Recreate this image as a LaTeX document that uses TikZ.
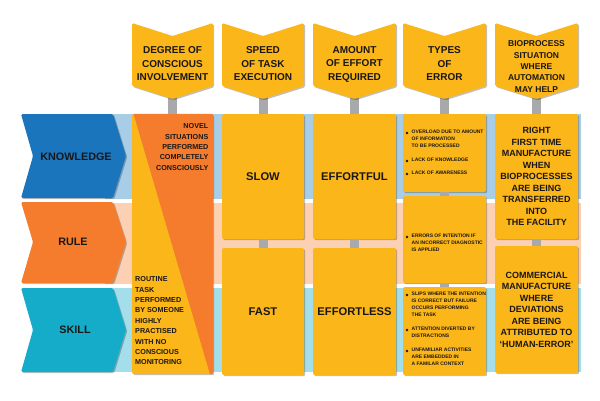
\documentclass[tikz,border=0pt]{standalone}
\usepackage{fontspec}
\setmainfont{Liberation Sans}
\usetikzlibrary{shadows,backgrounds}
\definecolor{yel}{HTML}{FBB61A}
\definecolor{org}{HTML}{F47C2C}
\definecolor{blu}{HTML}{1B75BC}
\definecolor{cya}{HTML}{14ACC8}
\definecolor{bandK}{HTML}{A8CDE7}
\definecolor{bandR}{HTML}{FCD0B2}
\definecolor{bandS}{HTML}{A4DEEA}
\definecolor{stemgray}{HTML}{A7A9AC}
\definecolor{ink}{HTML}{1A1718}
\begin{document}
\begin{tikzpicture}[x=1pt,y=-1pt,
  shad/.style={drop shadow={shadow xshift=1.2pt,shadow yshift=-1.2pt,fill=black,opacity=0.25}},
  box/.style={fill=yel,rounded corners=2pt,shad,inner sep=0pt,text=ink,align=center,font=\bfseries},
  stem/.style={draw=stemgray,line width=9pt},
  hdrshape/.style={fill=yel,rounded corners=1.5pt,shad},
  hdrtext/.style={text=ink,align=center,font=\fontsize{10}{13.5}\selectfont\bfseries,inner sep=0pt},
  rowtext/.style={text=ink,font=\fontsize{10.8}{13}\selectfont\bfseries,inner sep=0pt},
  big/.style={font=\fontsize{11.2}{14}\selectfont\bfseries},
  mid/.style={font=\fontsize{9}{11.5}\selectfont\bfseries},
  small/.style={text=ink,font=\fontsize{7.2}{10.4}\selectfont\bfseries,inner sep=0pt},
  err/.style={text=ink,font=\fontsize{5}{6.9}\selectfont\bfseries,inner sep=0pt,align=left,anchor=north west},
]
\useasboundingbox (0,0) rectangle (600,400);

% row bands
\fill[bandK] (105,114) rectangle (581,199);
\fill[bandR] (105,202.5) rectangle (581,284);
\fill[bandS] (105,287.5) rectangle (581,372);

% row chevrons
\path[fill=blu,rounded corners=1.5pt,shad] (21,114) -- (113,114) -- (126,156) -- (113,198) -- (21,198) -- (33,156) -- cycle;
\node[rowtext] (know) at (76,157) {KNOWLEDGE};
\path[fill=org,rounded corners=1.5pt,shad] (21,202) -- (113,202) -- (126,242) -- (113,283) -- (21,283) -- (33,242) -- cycle;
\node[rowtext] (rule) at (73,242) {RULE};
\path[fill=cya,rounded corners=1.5pt,shad] (21,288) -- (113,288) -- (126,330) -- (113,372) -- (21,372) -- (33,330) -- cycle;
\node[rowtext] (skill) at (75,330) {SKILL};

% column 1
\node[box,minimum width=81pt,minimum height=260pt] (c1) at (172.5,244) {};
\begin{scope}
\clip[rounded corners=2pt] (c1.north west) rectangle (c1.south east);
\fill[org] (133,112) -- (215,112) -- (215,376) -- (210.5,376) -- cycle;
\end{scope}
\node[small,anchor=north east,align=right] (c1top) at (208.5,123.5) {NOVEL\\SITUATIONS\\PERFORMED\\COMPLETELY\\CONSCIOUSLY};
\node[small,anchor=north west,align=left] (c1bot) at (135,276.5) {ROUTINE\\TASK\\PERFORMED\\BY SOMEONE\\HIGHLY\\PRACTISED\\WITH NO\\CONSCIOUS\\MONITORING};

% column 2
\node[box,big,minimum width=82pt,minimum height=125pt] (slow) at (263,176.5) {SLOW};
\node[box,big,minimum width=82pt,minimum height=127pt] (fast) at (263,311.5) {FAST};
% column 3
\node[box,big,minimum width=83pt,minimum height=125pt] (effortful) at (354.5,176.5) {EFFORTFUL};
\node[box,big,minimum width=83pt,minimum height=127pt] (effortless) at (354.5,311.5) {EFFORTLESS};
% column 4
\node[box,minimum width=83pt,minimum height=78pt] (e1) at (444.5,153) {};
\node[box,minimum width=83pt,minimum height=87pt] (e2) at (444.5,239.5) {};
\node[box,minimum width=83pt,minimum height=88pt] (e3) at (444.5,331) {};
% column 5
\node[box,mid,minimum width=83pt,minimum height=125pt] (rft) at (536.5,176.5) {RIGHT\\FIRST TIME\\MANUFACTURE\\WHEN\\BIOPROCESSES\\ARE BEING\\TRANSFERRED\\INTO\\THE FACILITY};
\node[box,mid,minimum width=83pt,minimum height=127pt] (comm) at (536.5,309.5) {COMMERCIAL\\MANUFACTURE\\WHERE\\DEVIATIONS\\ARE BEING\\ATTRIBUTED TO\\‘HUMAN-ERROR’};

% error texts
\fill[ink] (407,133) circle (1.4);
\node[err] (t1) at (411.5,130) {OVERLOAD DUE TO AMOUNT\\OF INFORMATION\\TO BE PROCESSED};
\fill[ink] (407,161) circle (1.4);
\node[err] (t2) at (411.5,158) {LACK OF KNOWLEDGE};
\fill[ink] (407,174) circle (1.4);
\node[err] (t3) at (411.5,171) {LACK OF AWARENESS};
\fill[ink] (407,237) circle (1.4);
\node[err] (t4) at (411.5,234) {ERRORS OF INTENTION IF\\AN INCORRECT DIAGNOSTIC\\IS APPLIED};
\fill[ink] (407,295) circle (1.4);
\node[err] (t5) at (411.5,292) {SLIPS WHERE THE INTENTION\\IS CORRECT BUT FAILURE\\OCCURS PERFORMING\\THE TASK};
\fill[ink] (407,330) circle (1.4);
\node[err] (t6) at (411.5,327) {ATTENTION DIVERTED BY\\DISTRACTIONS};
\fill[ink] (407,351) circle (1.4);
\node[err] (t7) at (411.5,348) {UNFAMILIAR ACTIVITIES\\ARE EMBEDDED IN\\A FAMILAR CONTEXT};

% header tip coordinates
\coordinate (h1) at (172.5,90);
\coordinate (h2) at (263,90);
\coordinate (h3) at (354.5,90);
\coordinate (h4) at (444.5,90);
\coordinate (h5) at (536.5,90);

% stems
\draw[stem] (h1) -- (c1.north);
\draw[stem] (h2) -- (slow.north);
\draw[stem] (h3) -- (effortful.north);
\draw[stem] (h4) -- (e1.north);
\draw[stem] (h5) -- (rft.north);
\draw[stem] (slow.south) -- (fast.north);
\draw[stem] (effortful.south) -- (effortless.north);
\draw[stem] (e1.south) -- (e2.north);
\draw[stem] (e2.south) -- (e3.north);
\draw[stem] (rft.south) -- (comm.north);

% headers
\foreach \L/\R in {132/213,222/304,313/396,403/486,495/578}{
  \pgfmathsetmacro{\C}{(\L+\R)/2}
  \path[hdrshape] (\L,23) -- (\C,36) -- (\R,23) -- (\R,86) -- (\C,99) -- (\L,86) -- cycle;
}
\node[hdrtext] (ht1) at (172.5,64) {DEGREE OF\\CONSCIOUS\\INVOLVEMENT};
\node[hdrtext] (ht2) at (263,64) {SPEED\\OF TASK\\EXECUTION};
\node[hdrtext] (ht3) at (354.5,64) {AMOUNT\\OF EFFORT\\REQUIRED};
\node[hdrtext] (ht4) at (444.5,64) {TYPES\\OF\\ERROR};
\node[hdrtext,font=\fontsize{8.5}{11.4}\selectfont\bfseries] (ht5) at (536.5,66.5) {BIOPROCESS\\SITUATION\\WHERE\\AUTOMATION\\MAY HELP};
\end{tikzpicture}
\end{document}
